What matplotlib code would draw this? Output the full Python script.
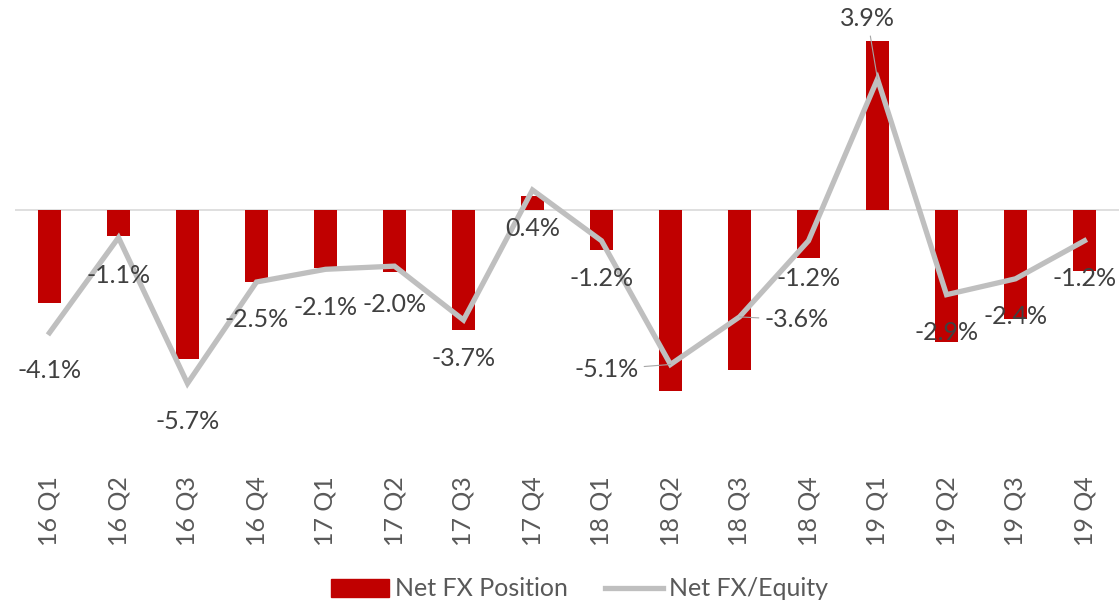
import matplotlib
matplotlib.use("Agg")
import matplotlib.pyplot as plt
from matplotlib.patches import Patch
from matplotlib.lines import Line2D

plt.rcParams['font.family'] = ['Lato', 'DejaVu Sans']

quarters = ['16 Q1', '16 Q2', '16 Q3', '16 Q4', '17 Q1', '17 Q2', '17 Q3', '17 Q4',
            '18 Q1', '18 Q2', '18 Q3', '18 Q4', '19 Q1', '19 Q2', '19 Q3', '19 Q4']
net_fx_position = [-93, -26, -149, -72, -58, -62, -120, 14,
                   -40, -181, -160, -48, 169, -132, -109, -61]
net_fx_equity = [-4.1, -1.1, -5.7, -2.5, -2.1, -2.0, -3.7, 0.4,
                 -1.2, -5.1, -3.6, -1.2, 3.9, -2.9, -2.4, -1.2]

RED = '#c00000'
GREY = '#bfbfbf'
TXT = '#404040'

fig = plt.figure(figsize=(11.19, 6.05), dpi=100)
ax = fig.add_axes([15 / 1119, 1 - 465 / 605, 1 - 15 / 1119, 445 / 605])
ax2 = ax.twinx()

x = list(range(len(quarters)))
ax.bar(x, net_fx_position, width=0.32, color=RED, zorder=2)
ax.axhline(0, color='#d9d9d9', lw=1.2, zorder=1)
ax.set_ylim(-255, 190)
ax.set_xlim(-0.5, len(quarters) - 0.5)

ax2.plot(x, net_fx_equity, color=GREY, lw=3.8, solid_joinstyle='miter', zorder=3)
ax2.set_ylim(-8.27, 5.76)

# data labels: offsets in pixels, mostly below the point
special = {9: (-64, -5), 10: (57, -3), 12: (-10, 60)}
for i, v in enumerate(net_fx_equity):
    if i in special:
        ax2.annotate(f'{v:.1f}%', (i, v), xytext=special[i],
                     textcoords='offset pixels', ha='center', va='center',
                     fontsize=18, color=TXT,
                     arrowprops=dict(arrowstyle='-', color='#a6a6a6', lw=0.8,
                                     shrinkA=2, shrinkB=0))
    else:
        ax2.annotate(f'{v:.1f}%', (i, v), xytext=(0, -38),
                     textcoords='offset pixels', ha='center', va='center',
                     fontsize=18, color=TXT)

for a in (ax, ax2):
    for s in a.spines.values():
        s.set_visible(False)
    a.set_yticks([])
ax.set_xticks(x)
ax.set_xticklabels(quarters, rotation=90, fontsize=18, color='#595959')
ax.tick_params(axis='x', length=0, pad=8)

handles = [Patch(color=RED), Line2D([0], [0], color=GREY, lw=3.8)]
fig.legend(handles, ['Net FX Position', 'Net FX/Equity'], loc='center',
           bbox_to_anchor=(0.518, 1 - 589 / 605), ncol=2, frameon=False,
           fontsize=18, handlelength=2.3, columnspacing=1.5, handletextpad=0.25,
           labelcolor='#595959')

fig.savefig('out.png', dpi=100)
